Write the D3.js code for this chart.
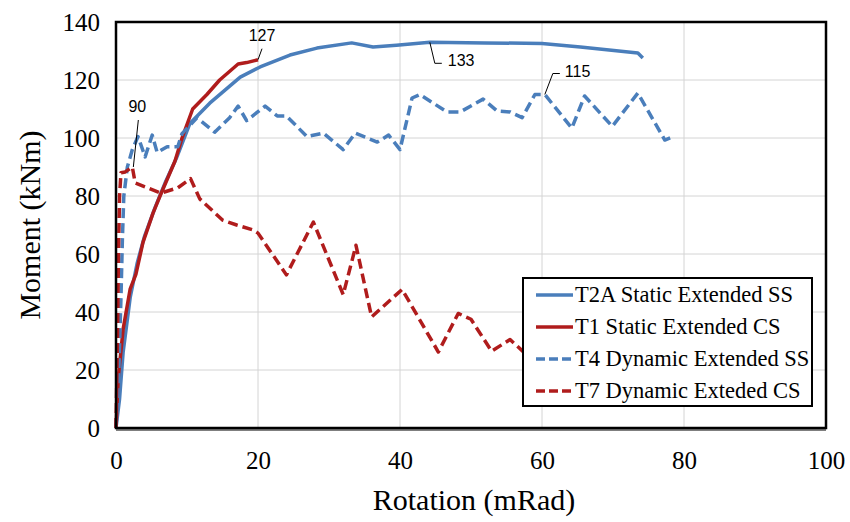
<!DOCTYPE html>
<html>
<head>
<meta charset="utf-8">
<script src="https://cdn.jsdelivr.net/npm/d3@7/dist/d3.min.js"></script>
<style>
  html, body { margin: 0; padding: 0; background: #fff; }
  svg { display: block; }
  .serif { font-family: "Liberation Serif", "DejaVu Serif", "Times New Roman", serif; }
  .sans { font-family: "Liberation Sans", Arial, sans-serif; }
</style>
</head>
<body>
<svg id="chart" width="850" height="522"></svg>
<script>
// Moment–rotation response of extended end-plate connections
const xTicks = [0, 20, 40, 60, 80, 100];
const yTicks = [0, 20, 40, 60, 80, 100, 120, 140];

const seriesNames = [
  "T2A Static Extended SS",
  "T1 Static Extended CS",
  "T4 Dynamic Extended SS",
  "T7 Dynamic Exteded CS"
];
const seriesColors = ["#4a7ebb", "#b01c1c", "#4a7ebb", "#b01c1c"];
const seriesDashed = [false, false, true, true];

// [rotation (mRad), moment (kNm)]
const t2aStaticSS = [
  [0, 0], [0.5, 10], [1, 26], [2, 45], [3, 57], [4, 66], [5.5, 76], [7, 85],
  [8.5, 93], [10.4, 105], [13.2, 112], [17.5, 121], [20.3, 124.5], [24.5, 128.6],
  [28.3, 131], [33.2, 132.8], [36.2, 131.4], [39.5, 132], [44.2, 133], [52, 132.8],
  [60, 132.6], [65.4, 131.4], [73.5, 129.3], [74.2, 127.6]
];
const t1StaticCS = [
  [0, 0], [0.3, 17], [1, 34], [2, 48], [2.8, 53], [3.8, 64], [5.2, 74], [6.2, 80],
  [8.3, 92], [9.3, 100], [10.8, 110], [12.8, 115], [14.6, 120], [17.2, 125.5],
  [18.4, 126], [20, 127]
];
const t4DynamicSS = [
  [0, 0], [0.4, 20], [0.7, 45], [0.9, 65], [1.1, 80], [1.6, 90], [2.3, 96],
  [3.1, 100.5], [4.1, 93.5], [5.1, 101], [5.8, 95], [7.2, 97], [8.7, 97],
  [9.3, 101.5], [11.4, 107], [13.9, 102], [16, 107], [17.2, 111], [18.4, 106],
  [21, 111], [22.7, 107.6], [24, 107.6], [26.9, 100.5], [29.2, 101.7], [32, 96],
  [33.7, 101.7], [36.8, 98.6], [38.4, 101], [40, 96], [41.7, 113.8], [42.8, 115],
  [46.6, 109], [48.5, 109], [51.7, 113.4], [53.7, 109.3], [55.5, 109], [57.2, 107],
  [59, 115], [60.4, 115], [64.2, 103.4], [66, 114.5], [69.9, 104], [73.5, 115.5],
  [77.3, 99.3], [78.7, 100.7]
];
const t7DynamicCS = [
  [0, 0], [0.2, 30], [0.35, 60], [0.5, 80], [0.7, 88], [1.3, 88.3], [2.3, 90],
  [2.7, 84.5], [6.3, 81], [8.7, 82.8], [10.5, 86], [11.8, 79], [15, 71.7], [17, 70],
  [19.3, 68.3], [20, 67.2], [24, 52.8], [27.8, 71], [32, 46], [33.8, 63], [36, 38.3],
  [40.3, 47.8], [45.4, 26.2], [48.2, 39.5], [50, 37.5], [52.9, 26.5], [55.5, 30.5],
  [57.5, 26], [60, 24]
];

// Peak annotations: [series index, x, y, text]
const peakLabels = [
  [1, 20, 127, "127"],
  [0, 44.2, 133, "133"],
  [2, 60.4, 115, "115"],
  [3, 2.3, 90, "90"]
];

const allSeries = [t2aStaticSS, t1StaticCS, t4DynamicSS, t7DynamicCS];

const svg = d3.select("#chart");
const plot = { left: 116, right: 826, top: 22, bottom: 428 };

const x = d3.scaleLinear().domain([0, 100]).range([plot.left, plot.right]);
const y = d3.scaleLinear().domain([0, 140]).range([plot.bottom, plot.top]);

// gridlines
svg.append("g")
  .selectAll("line")
  .data(xTicks.slice(1, -1))
  .join("line")
  .attr("x1", d => x(d)).attr("x2", d => x(d))
  .attr("y1", plot.top).attr("y2", plot.bottom)
  .attr("stroke", "#d4d4d4").attr("stroke-width", 1);
svg.append("g")
  .selectAll("line")
  .data(yTicks.slice(1, -1))
  .join("line")
  .attr("x1", plot.left).attr("x2", plot.right)
  .attr("y1", d => y(d)).attr("y2", d => y(d))
  .attr("stroke", "#d4d4d4").attr("stroke-width", 1);

// axes (labels only; frame drawn separately)
const xAxis = svg.append("g")
  .attr("transform", `translate(0,${plot.bottom})`)
  .call(d3.axisBottom(x).tickValues(xTicks).tickSize(0).tickPadding(23));
const yAxis = svg.append("g")
  .attr("transform", `translate(${plot.left},0)`)
  .call(d3.axisLeft(y).tickValues(yTicks).tickSize(0).tickPadding(16));
[xAxis, yAxis].forEach(a => {
  a.attr("font-family", null).attr("font-size", null);
  a.select(".domain").remove();
  a.selectAll("text")
    .attr("class", "serif")
    .style("font-size", "25px").attr("fill", "#000");
});

// series lines
const line = d3.line().x(d => x(d[0])).y(d => y(d[1]));
allSeries.forEach((data, i) => {
  svg.append("path")
    .datum(data)
    .attr("d", line)
    .attr("fill", "none")
    .attr("stroke", seriesColors[i])
    .attr("stroke-width", 3.5)
    .attr("stroke-linejoin", "round")
    .attr("stroke-dasharray", seriesDashed[i] ? "10,5" : null);
});

// plot frame
svg.append("rect")
  .attr("x", plot.left).attr("y", plot.top)
  .attr("width", plot.right - plot.left).attr("height", plot.bottom - plot.top)
  .attr("fill", "none").attr("stroke", "#000").attr("stroke-width", 2.5);
svg.append("line")
  .attr("x1", plot.left).attr("x2", plot.right)
  .attr("y1", plot.bottom + 2).attr("y2", plot.bottom + 2)
  .attr("stroke", "#000").attr("stroke-width", 1);

// peak annotations with leader lines
const leaders = {
  "127": { path: (px, py) => [[px, py], [px + 4, py - 11]], tx: px => px + 4, ty: py => py - 19, anchor: "middle" },
  "133": { path: (px, py) => [[px, py], [px + 5, py + 21], [px + 12, py + 21]], tx: px => px + 18, ty: py => py + 24, anchor: "start" },
  "115": { path: (px, py) => [[px, py], [px + 8, py - 21], [px + 15, py - 21]], tx: px => px + 20, ty: py => py - 18, anchor: "start" },
  "90":  { path: (px, py) => [[px + 1, py], [px + 6, py - 47]], tx: px => px + 5, ty: py => py - 55, anchor: "middle" }
};
peakLabels.forEach(([si, lx, ly, txt]) => {
  const px = x(lx), py = y(ly);
  const L = leaders[txt];
  svg.append("path")
    .attr("d", d3.line()(L.path(px, py)))
    .attr("fill", "none").attr("stroke", "#000").attr("stroke-width", 1);
  svg.append("text")
    .attr("class", "sans")
    .attr("x", L.tx(px)).attr("y", L.ty(py))
    .attr("text-anchor", L.anchor)
    .style("font-size", "16px")
    .attr("fill", "#000")
    .text(txt);
});

// axis titles
svg.append("text")
  .attr("class", "serif")
  .attr("x", x(50) + 3).attr("y", 510)
  .attr("text-anchor", "middle")
  .style("font-size", "30px").attr("fill", "#000")
  .text("Rotation (mRad)");
svg.append("text")
  .attr("class", "serif")
  .attr("transform", `translate(40,${(plot.top + plot.bottom) / 2}) rotate(-90)`)
  .attr("text-anchor", "middle")
  .style("font-size", "30px").attr("fill", "#000")
  .text("Moment (kNm)");

// legend
const lg = { x: 523, y: 278, w: 289, h: 128, row: 32 };
const legend = svg.append("g");
legend.append("rect")
  .attr("x", lg.x).attr("y", lg.y).attr("width", lg.w).attr("height", lg.h)
  .attr("fill", "#fff").attr("stroke", "#000").attr("stroke-width", 2);
seriesNames.forEach((name, i) => {
  const cy = lg.y + 17 + i * lg.row;
  legend.append("line")
    .attr("x1", lg.x + 13).attr("x2", lg.x + 50)
    .attr("y1", cy).attr("y2", cy)
    .attr("stroke", seriesColors[i]).attr("stroke-width", 3.5)
    .attr("stroke-dasharray", seriesDashed[i] ? "9,4" : null);
  legend.append("text")
    .attr("class", "serif")
    .attr("x", lg.x + 52).attr("y", cy + 7)
    .style("font-size", "22.5px").attr("fill", "#000")
    .text(name);
});
</script>
</body>
</html>
